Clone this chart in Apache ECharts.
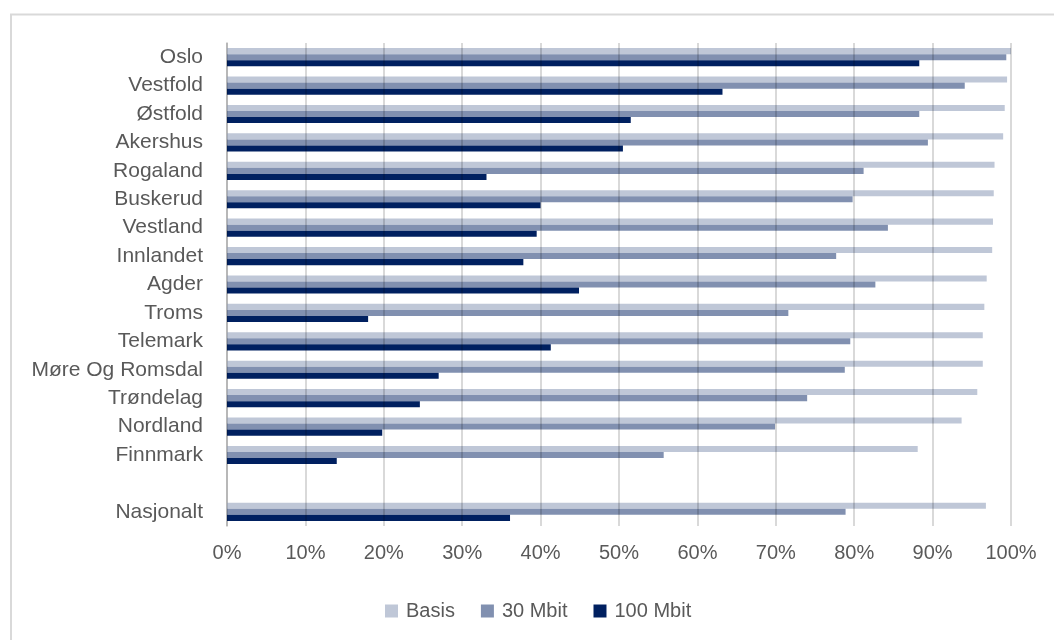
<!DOCTYPE html>
<html>
<head>
<meta charset="utf-8">
<script src="https://cdn.jsdelivr.net/npm/echarts@6/dist/echarts.min.js"></script>
<style>
html,body{margin:0;padding:0;background:#fff;}
#chart{width:1054px;height:640px;}
</style>
</head>
<body>
<div id="chart"></div>
<script>
const categories = ['Oslo','Vestfold','Østfold','Akershus','Rogaland','Buskerud','Vestland','Innlandet','Agder','Troms','Telemark','Møre Og Romsdal','Trøndelag','Nordland','Finnmark','','Nasjonalt'];
const basis   = [100.0, 99.5, 99.2, 99.0, 97.9, 97.8, 97.7, 97.6, 96.9, 96.6, 96.4, 96.4, 95.7, 93.7, 88.1, null, 96.8];
const mbit30  = [99.4, 94.1, 88.3, 89.4, 81.2, 79.8, 84.3, 77.7, 82.7, 71.6, 79.5, 78.8, 74.0, 69.9, 55.7, null, 78.9];
const mbit100 = [88.3, 63.2, 51.5, 50.5, 33.1, 40.0, 39.5, 37.8, 44.9, 18.0, 41.3, 27.0, 24.6, 19.8, 14.0, null, 36.1];
const seriesNames = ['Basis','30 Mbit','100 Mbit'];
const xTicks = [0,10,20,30,40,50,60,70,80,90,100];

const colors = ['#BFC7D7','#8190B0','#002060'];
const font = '"Liberation Sans", Arial, sans-serif';
const chart = echarts.init(document.getElementById('chart'), null, {renderer:'canvas'});
const dataSets = [basis, mbit30, mbit100];
chart.setOption({
  animation:false,
  backgroundColor:'#fff',
  color: colors,
  graphic:[{type:'rect', shape:{x:11, y:14.5, width:1100, height:700}, style:{fill:'none', stroke:'#D9D9D9', lineWidth:2}, silent:true}],
  grid:{left:227, right:43, top:43, bottom:114},
  legend:{
    data: seriesNames, left:380, top:596, itemWidth:13, itemHeight:13, itemGap:26,
    icon:'rect',
    textStyle:{fontFamily:font, fontSize:20, color:'#595959', padding:[0,0,0,3]}
  },
  xAxis:{
    type:'value', min:0, max:100, interval:10, z:5,
    axisLabel:{formatter: v => xTicks.includes(v) ? v + '%' : '', fontFamily:font, fontSize:20, color:'#595959', margin:17},
    splitLine:{show:true, lineStyle:{color:'rgba(0,0,0,0.15)', width:2}},
    axisLine:{show:false}, axisTick:{show:false}
  },
  yAxis:{
    type:'category', data: categories, inverse:true,
    axisLabel:{fontFamily:font, fontSize:21, color:'#595959', margin:24},
    axisLine:{show:true, lineStyle:{color:'#D9D9D9', width:2}},
    axisTick:{show:false}
  },
  series: seriesNames.map((n,i)=>({
    name:n, type:'bar', data:dataSets[i], barGap:'0%', barCategoryGap:'36%',
    itemStyle:{color:colors[i]}
  }))
});
</script>
</body>
</html>
